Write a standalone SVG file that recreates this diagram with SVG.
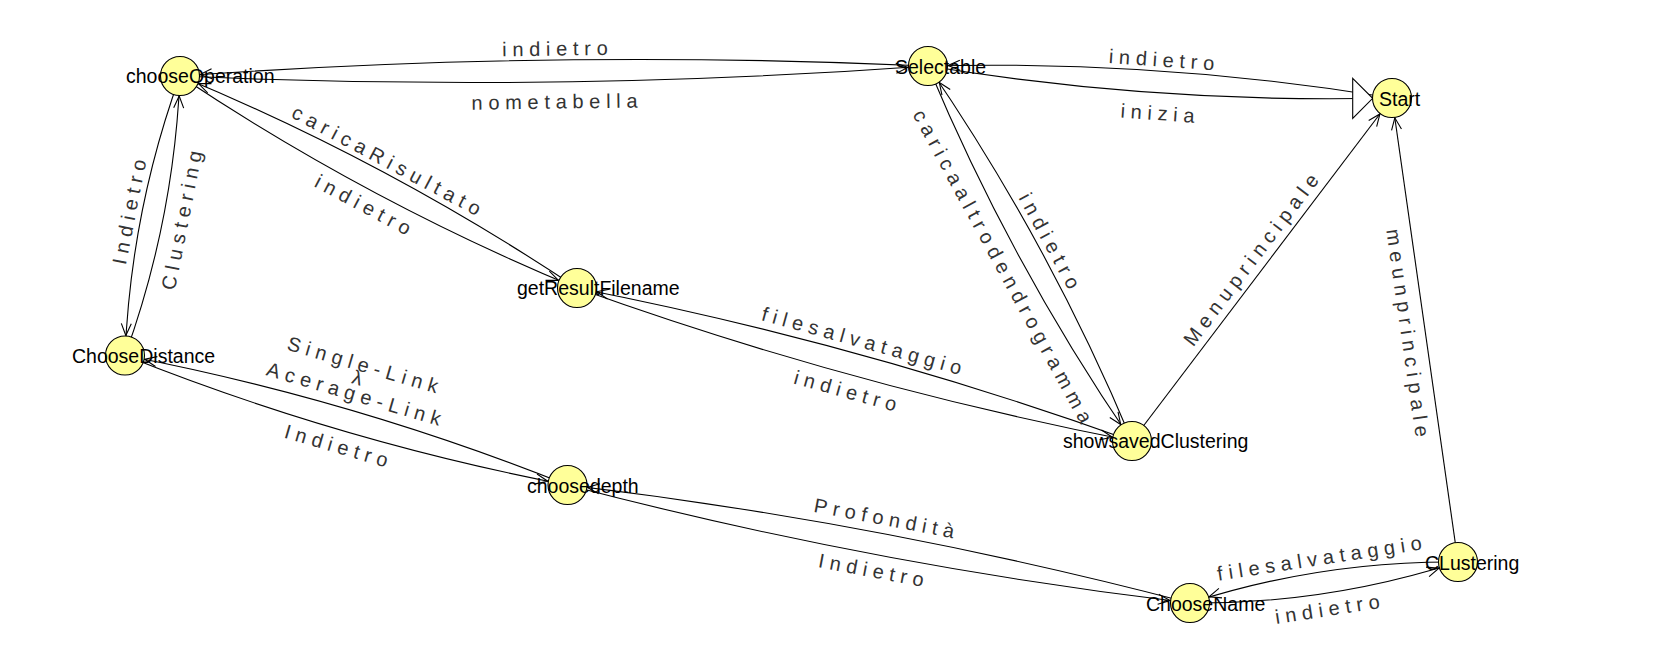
<svg xmlns="http://www.w3.org/2000/svg" width="1675" height="650" viewBox="0 0 1675 650">
<defs>
<style>
.edge{fill:none;stroke:#000;stroke-width:1.1}
.arrow{marker-end:url(#arr)}
.el{font-family:"Liberation Sans",Arial,sans-serif;font-size:20px;fill:#333;letter-spacing:5.7px;text-anchor:middle}
.node circle{fill:#ffff99;stroke:#000;stroke-width:1.1}
.node text{font-family:"Liberation Sans",Arial,sans-serif;font-size:19.5px;fill:#000}
</style>
<marker id="arr" markerUnits="userSpaceOnUse" orient="auto" markerWidth="40" markerHeight="20" viewBox="-40 -10 40 20" refX="0" refY="0">
<path d="M-32,-5 L-20,0 L-32,5" fill="none" stroke="#000" stroke-width="1.1"/>
</marker>
</defs>
<rect width="1675" height="650" fill="#fff"/>
<g id="connectors">
<g id="e-sel-co"><path class="edge arrow" d="M928,66 Q553.7,49 180,76"/><text class="el" transform="translate(555,50) rotate(-0.77)" x="2.85" dy="0.28em">indietro</text></g>
<g id="e-co-sel"><path class="edge arrow" d="M180,76 Q554.3,93 928,66"/><text class="el" transform="translate(554.5,103) rotate(-0.77)" x="2.85" dy="0.28em">nometabella</text></g>
<g id="e-st-sel"><path class="edge arrow" d="M1392,98 Q1161.5,60 928,66"/><text class="el" transform="translate(1161.5,61) rotate(3.95)" x="2.85" dy="0.28em">indietro</text></g>
<g id="e-sel-st"><path class="edge" d="M928,66 Q1158.5,103.9 1392,98"/><polygon points="1352.7,78.3 1372.7,98.3 1352.7,118.3" fill="#fff" stroke="#000" stroke-width="1.1"/><text class="el" transform="translate(1157.5,114.5) rotate(3.95)" x="2.85" dy="0.28em">inizia</text></g>
<g id="e-co-gr"><path class="edge arrow" d="M180,76 Q368.1,201.4 577,288"/><text class="el" transform="translate(386,161.5) rotate(28.1)" x="2.85" dy="0.28em">caricaRisultato</text></g>
<g id="e-gr-co"><path class="edge arrow" d="M577,288 Q388.9,162.6 180,76"/><text class="el" transform="translate(362.5,206) rotate(28.1)" x="2.85" dy="0.28em">indietro</text></g>
<g id="e-co-cd"><path class="edge arrow" d="M180,76 Q130.9,211.5 125,355.5"/><text class="el" transform="translate(183,220.5) rotate(-78.87)" x="2.85" dy="0.28em">Clustering</text></g>
<g id="e-cd-co"><path class="edge arrow" d="M125,355.5 Q174.1,220 180,76"/><text class="el" transform="translate(130.5,212) rotate(-78.87)" x="2.85" dy="0.28em">Indietro</text></g>
<g id="e-gr-ss"><path class="edge arrow" d="M577,288 Q848.65,385.7 1132,441"/><text class="el" transform="translate(861.5,342) rotate(15.41)" x="2.85" dy="0.28em">filesalvataggio</text></g>
<g id="e-ss-gr"><path class="edge arrow" d="M1132,441 Q860.35,343.3 577,288"/><text class="el" transform="translate(845,392) rotate(15.41)" x="2.85" dy="0.28em">indietro</text></g>
<g id="e-ss-sel"><path class="edge arrow" d="M1132,441 Q1049.3,243 928,66"/><text class="el" transform="translate(1001.5,267) rotate(61.46)" x="2.85" dy="0.28em">caricaaltrodendrogramma</text></g>
<g id="e-sel-ss"><path class="edge arrow" d="M928,66 Q1010.7,264 1132,441"/><text class="el" transform="translate(1048.5,241.5) rotate(61.46)" x="2.85" dy="0.28em">indietro</text></g>
<g id="e-ss-st"><path class="edge arrow" d="M1132,441 L1392,98"/><text class="el" transform="translate(1252,260.5) rotate(-52.84)" x="2.85" dy="0.28em">Menuprincipale</text></g>
<g id="e-cl-st"><path class="edge arrow" d="M1458,562 L1392,98"/><text class="el" transform="translate(1406.5,333) rotate(81.9)" x="2.85" dy="0.28em">meunprincipale</text></g>
<g id="e-cd-dp"><path class="edge arrow" d="M125,355.5 Q340.07,441.37 567.5,485"/><text class="el" transform="translate(362.5,366) rotate(16.31)" x="2.85" dy="0.28em">Single-Link</text><text class="el" transform="translate(357,379) rotate(16.31)" x="2.85" dy="0.28em">λ</text><text class="el" transform="translate(353.5,395) rotate(16.31)" x="2.85" dy="0.28em">Acerage-Link</text></g>
<g id="e-dp-cd"><path class="edge arrow" d="M567.5,485 Q352.43,399.13 125,355.5"/><text class="el" transform="translate(336,447) rotate(16.31)" x="2.85" dy="0.28em">Indietro</text></g>
<g id="e-dp-cn"><path class="edge arrow" d="M567.5,485 Q874.65,565.6 1190,603"/><text class="el" transform="translate(884,519.5) rotate(10.73)" x="2.85" dy="0.28em">Profondità</text></g>
<g id="e-cn-dp"><path class="edge arrow" d="M1190,603 Q882.85,522.4 567.5,485"/><text class="el" transform="translate(871,571.5) rotate(10.73)" x="2.85" dy="0.28em">Indietro</text></g>
<g id="e-cn-cl"><path class="edge arrow" d="M1190,603 Q1327.3,604.25 1458,562"/><text class="el" transform="translate(1327.5,610.5) rotate(-8.7)" x="2.85" dy="0.28em">indietro</text></g>
<g id="e-cl-cn"><path class="edge arrow" d="M1458,562 Q1320.7,560.75 1190,603"/><text class="el" transform="translate(1319.5,559.5) rotate(-8.7)" x="2.85" dy="0.28em">filesalvataggio</text></g>
</g>
<g id="node-chooseOperation" class="node"><circle cx="180" cy="76" r="19.5"/><text x="126" y="83">chooseOperation</text></g>
<g id="node-Selectable" class="node"><circle cx="928" cy="66" r="19.5"/><text x="895" y="74">Selectable</text></g>
<g id="node-Start" class="node"><circle cx="1392" cy="98" r="19.5"/><text x="1379" y="105.5">Start</text></g>
<g id="node-getResultFilename" class="node"><circle cx="577" cy="288" r="19.5"/><text x="517" y="295">getResultFilename</text></g>
<g id="node-ChooseDistance" class="node"><circle cx="125" cy="355.5" r="19.5"/><text x="72" y="362.5">ChooseDistance</text></g>
<g id="node-choosedepth" class="node"><circle cx="567.5" cy="485" r="19.5"/><text x="527" y="492.5">choosedepth</text></g>
<g id="node-showsavedClustering" class="node"><circle cx="1132" cy="441" r="19.5"/><text x="1063" y="447.5">showsavedClustering</text></g>
<g id="node-ChooseName" class="node"><circle cx="1190" cy="603" r="19.5"/><text x="1146" y="610.5">ChooseName</text></g>
<g id="node-CLustering" class="node"><circle cx="1458" cy="562" r="19.5"/><text x="1425" y="569.5">CLustering</text></g>
</svg>
